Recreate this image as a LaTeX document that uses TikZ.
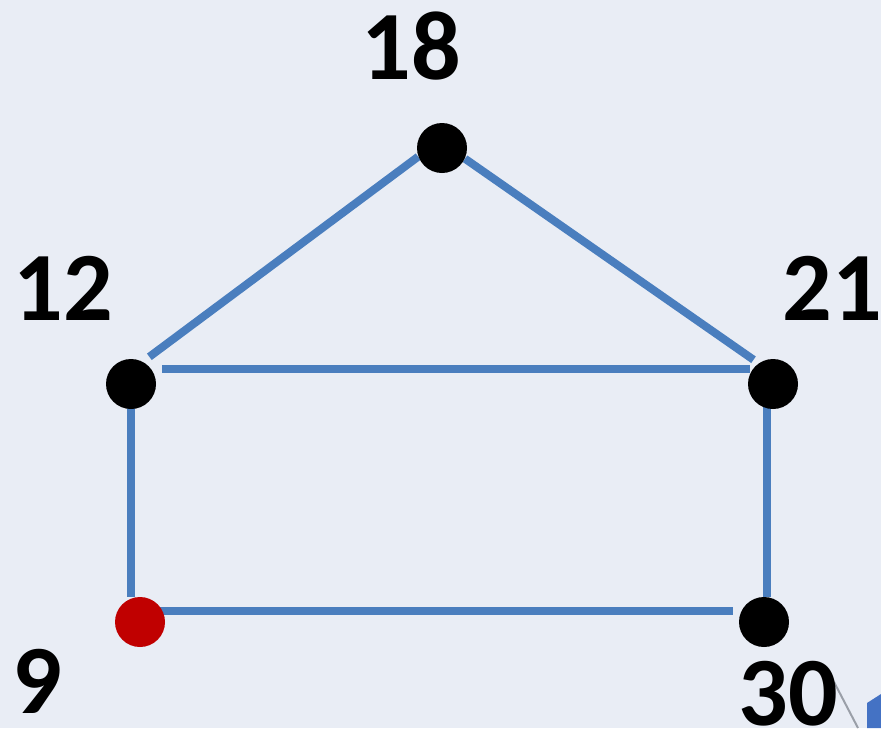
\documentclass[tikz,border=0pt]{standalone}
\usepackage{fontspec}
\setmainfont{Carlito}
\usetikzlibrary{positioning,calc,backgrounds}
\definecolor{Paper}{HTML}{E9EDF5}
\definecolor{Link}{HTML}{4A7EBE}
\definecolor{Start}{HTML}{C00000}
\definecolor{Corner}{HTML}{4472C4}
\definecolor{Scratch}{HTML}{9A9FA8}
\tikzset{
  vx/.style={circle,fill=black,minimum size=25pt,inner sep=0pt},
  startvx/.style={vx,fill=Start},
  link/.style={draw=Link,line width=4pt},
  num/.style={font=\bfseries\fontsize{49}{49}\selectfont,inner sep=0pt}
}

\begin{document}
\begin{tikzpicture}[x=0.5pt,y=-0.5pt]
  \useasboundingbox (0,0) rectangle (881,728);
  % vertices
  \node[vx] (n18) at (442,148) {};
  \node[vx] (n12) at (131,384) {};
  \node[vx] (n21) at (773,384) {};
  \node[startvx] (n9) at (140,622) {};
  \node[vx] (n30) at (764,622) {};

  % labels
  \node[num] (l18) at (411,46) {18};
  \node[num] (l12) at (63,288) {12};
  \node[num] (l21) at (832,288) {21};
  \node[num] (l9) at (37,681) {9};
  \node[num] (l30) at (788,694) {30};

  \begin{scope}[on background layer]
    \fill[Paper] (0,0) rectangle (881,728);
    \draw[link,shorten <=4pt] (n12.62) -- (n18.200);
    \draw[link,shorten >=3pt] (n18.-25) -- (n21.125);
    \draw[link,shorten <=5.5pt,shorten >=1.5pt] (n12.37) -- (n21.143);
    \draw[link] (n12.center) -- (n12.center |- n9.north);
    \draw[link] ([xshift=-3pt]n21.center) -- ([xshift=-3pt]n21.center |- n30.north);
    \draw[link,shorten >=3pt] ([yshift=5.5pt]n9.center) -- ([yshift=5.5pt]n30.center -| n30.west);
    % cut-off corner of another picture
    \draw[Scratch,line width=1pt] (834,682) -- (858,728);
    \fill[Corner] (867,703) -- (881,694) -- (881,728) -- (867,728) -- cycle;
  \end{scope}
\end{tikzpicture}
\end{document}
